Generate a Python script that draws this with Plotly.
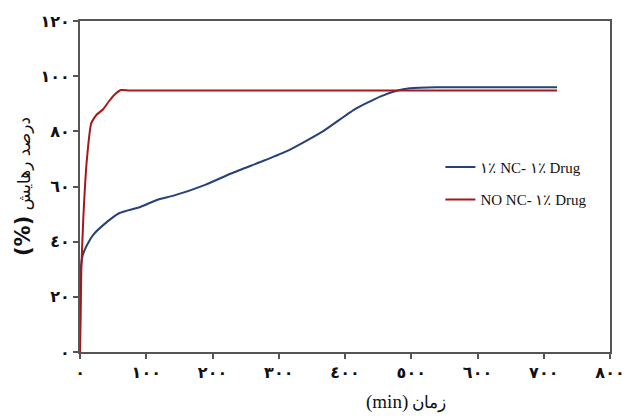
import plotly.graph_objects as go

# Data
time_nc = [0, 1.5, 4, 10, 20, 35, 59, 90, 118, 140, 189, 229, 279, 314, 364, 414, 453, 478, 498, 538, 600, 720]
release_nc = [0, 31, 35, 38.5, 42.5, 46, 50.3, 52.5, 55.3, 56.6, 60.6, 64.8, 69.5, 73, 79.6, 87.9, 92.6, 94.7, 95.6, 96.0, 96.0, 96.0]

time_no = [0, 2, 5, 10, 17, 25, 35, 44, 52, 62, 75, 720]
release_no = [0, 30, 48.5, 68.8, 83, 86, 88, 91, 93.3, 95.0, 94.8, 94.8]

series_names = ["١٪ NC- ١٪ Drug", "NO NC- ١٪ Drug"]
series_colors = ["#26407a", "#a3191c"]

x_ticks = [0, 100, 200, 300, 400, 500, 600, 700, 800]
x_labels = ["٠", "١٠٠", "٢٠٠", "٣٠٠", "٤٠٠", "٥٠٠", "٦٠٠", "٧٠٠", "٨٠٠"]
y_ticks = [0, 20, 40, 60, 80, 100, 120]
y_labels = ["٠", "٢٠", "٤٠", "٦٠", "٨٠", "١٠٠", "١٢٠"]

fig = go.Figure()
fig.add_trace(go.Scatter(x=time_nc, y=release_nc, mode="lines", name=series_names[0],
                         legendgroup="a",
                         line=dict(color=series_colors[0], width=2, shape="spline", smoothing=0.5)))
fig.add_trace(go.Scatter(x=time_no, y=release_no, mode="lines", name=series_names[1],
                         legendgroup="b",
                         line=dict(color=series_colors[1], width=2, shape="spline", smoothing=0.4)))

axis_common = dict(showgrid=False, zeroline=False, showline=True, linecolor="#555555",
                   linewidth=2, mirror=True, ticks="outside", ticklen=5, tickwidth=1.5,
                   tickcolor="#555555",
                   tickfont=dict(family="DejaVu Sans", size=16, color="#111111", weight="bold"))

fig.update_xaxes(range=[0, 800], tickvals=x_ticks, ticktext=x_labels, **axis_common)
fig.update_yaxes(range=[0, 120], tickvals=y_ticks, ticktext=y_labels,
                 title=dict(text="<b><span style='font-size:21px'>(%)</span></b> درصد رهایش",
                            font=dict(family="DejaVu Sans", size=17, color="#111111"),
                            standoff=6),
                 **axis_common)

fig.add_annotation(text="<span style='font-size:19px'>(min)</span> زمان",
                   xref="paper", yref="paper", x=0.615, y=-0.152,
                   xanchor="center", yanchor="middle", showarrow=False,
                   font=dict(family="Liberation Serif", size=17, color="#111111"))

fig.update_layout(
    width=637, height=417,
    margin=dict(l=80, r=22, t=15, b=65),
    paper_bgcolor="white", plot_bgcolor="white",
    showlegend=True,
    legend=dict(x=0.68, y=0.51, xanchor="left", yanchor="middle",
                font=dict(family="Liberation Serif", size=15, color="#111111"),
                bgcolor="rgba(0,0,0,0)", itemwidth=30, tracegroupgap=10),
)

fig.write_html("out.html")
